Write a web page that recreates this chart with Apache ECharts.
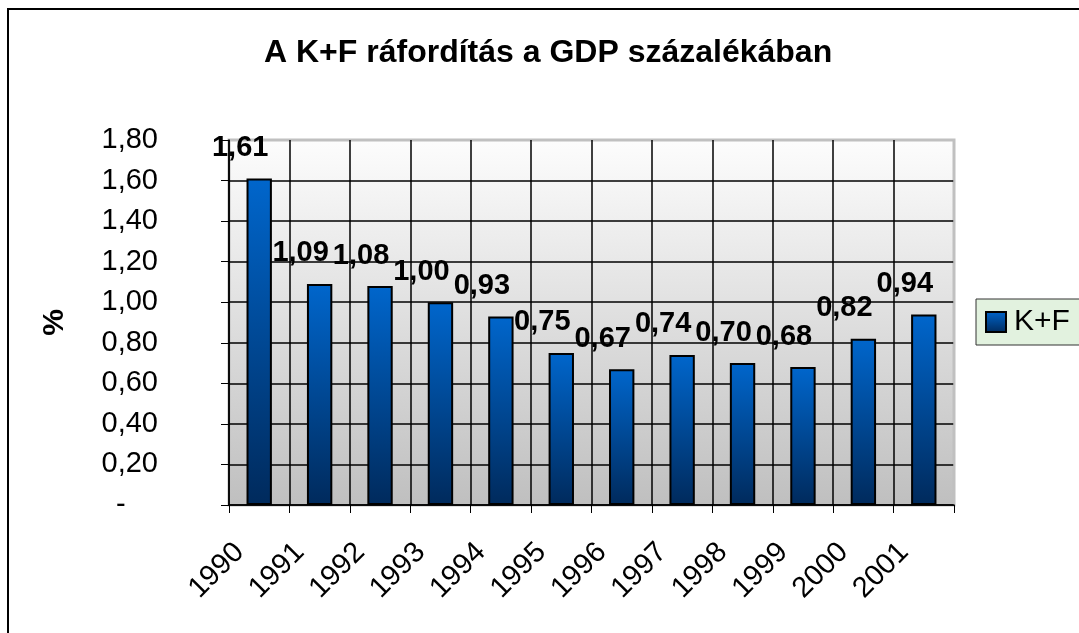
<!DOCTYPE html>
<html>
<head>
<meta charset="utf-8">
<script src="https://cdn.jsdelivr.net/npm/echarts@6/dist/echarts.min.js"></script>
<style>
  html, body { margin: 0; padding: 0; background: #fff; }
  #chart { width: 1079px; height: 633px; }
</style>
</head>
<body>
<div id="chart"></div>
<script>
  var years = ['1990', '1991', '1992', '1993', '1994', '1995', '1996', '1997', '1998', '1999', '2000', '2001'];
  var kf = [1.61, 1.09, 1.08, 1.00, 0.93, 0.75, 0.67, 0.74, 0.70, 0.68, 0.82, 0.94];
  var yTicks = [0, 0.2, 0.4, 0.6, 0.8, 1.0, 1.2, 1.4, 1.6, 1.8];

  var font = '"Liberation Sans", Arial, sans-serif';

  function fmt(v) {
    return v.toFixed(2).replace('.', ',');
  }

  // split line colours: last line (plot border) is grey
  var xSplitColors = [];
  for (var i = 0; i <= years.length; i++) {
    xSplitColors.push(i === years.length ? '#c0c0c0' : '#000');
  }
  var ySplitColors = [];
  for (var j = 0; j < yTicks.length; j++) {
    ySplitColors.push(j === yTicks.length - 1 ? '#c0c0c0' : '#000');
  }

  var barGradient = new echarts.graphic.LinearGradient(0, 0, 0, 1, [
    { offset: 0, color: '#0066cc' },
    { offset: 1, color: '#002a5c' }
  ]);

  var chart = echarts.init(document.getElementById('chart'), null, { renderer: 'canvas' });
  chart.setOption({
    animation: false,
    textStyle: { fontFamily: font },
    title: {
      text: 'A K+F ráfordítás a GDP százalékában',
      left: 259,
      top: 32,
      textStyle: { fontFamily: font, fontSize: 32, fontWeight: 'bold', color: '#000' }
    },
    graphic: [{
      type: 'rect',
      shape: { x: 8, y: 9, width: 1200, height: 800 },
      style: { fill: 'none', stroke: '#000', lineWidth: 2 },
      z: 100
    }],
    legend: {
      data: ['K+F'],
      left: 976,
      top: 299,
      padding: [8, 11, 8, 9],
      itemGap: 0,
      itemWidth: 20,
      itemHeight: 20,
      icon: 'rect',
      backgroundColor: '#e2f2df',
      borderColor: '#333',
      borderWidth: 1,
      borderRadius: 0,
      textStyle: { fontFamily: font, fontSize: 30, color: '#000', padding: [0, 0, 0, 3] }
    },
    grid: {
      left: 229,
      right: 125,
      top: 140,
      bottom: 128,
      show: true,
      borderColor: '#c0c0c0',
      borderWidth: 3,
      backgroundColor: new echarts.graphic.LinearGradient(0, 0, 0, 1, [
        { offset: 0, color: '#fdfdfd' },
        { offset: 1, color: '#bfbfbf' }
      ])
    },
    xAxis: {
      type: 'category',
      data: years,
      boundaryGap: true,
      axisLine: { lineStyle: { color: '#000', width: 1.5 } },
      axisTick: { show: true, length: 8, interval: 0, lineStyle: { color: '#000' } },
      splitLine: { show: true, interval: 0, lineStyle: { color: xSplitColors, width: 1.5 } },
      axisLabel: {
        interval: 0,
        rotate: 45,
        margin: 23,
        padding: [0, 28, 0, 0],
        fontSize: 29,
        fontFamily: font,
        color: '#000'
      }
    },
    yAxis: {
      type: 'value',
      min: 0,
      max: 1.8,
      interval: 0.2,
      name: '%',
      nameLocation: 'middle',
      nameGap: 159,
      nameRotate: 90,
      nameTextStyle: { fontFamily: font, fontSize: 30, fontWeight: 'bold', color: '#000' },
      axisLine: { show: true, lineStyle: { color: '#000', width: 1.5 } },
      axisTick: { show: true, length: 8, lineStyle: { color: '#000' } },
      splitLine: { show: true, lineStyle: { color: ySplitColors, width: 1.5 } },
      axisLabel: {
        margin: 71,
        fontSize: 29,
        fontFamily: font,
        color: '#000',
        formatter: function (v) {
          return v === 0 ? '-    ' : fmt(v);
        }
      }
    },
    series: [{
      name: 'K+F',
      type: 'bar',
      data: kf,
      barWidth: '42%',
      itemStyle: {
        color: barGradient,
        borderColor: '#000',
        borderWidth: 2
      },
      label: {
        show: true,
        position: 'top',
        offset: [-19, -11],
        fontFamily: font,
        fontSize: 29,
        fontWeight: 'bold',
        color: '#000',
        formatter: function (p) { return fmt(p.value); }
      }
    }]
  });
</script>
</body>
</html>
